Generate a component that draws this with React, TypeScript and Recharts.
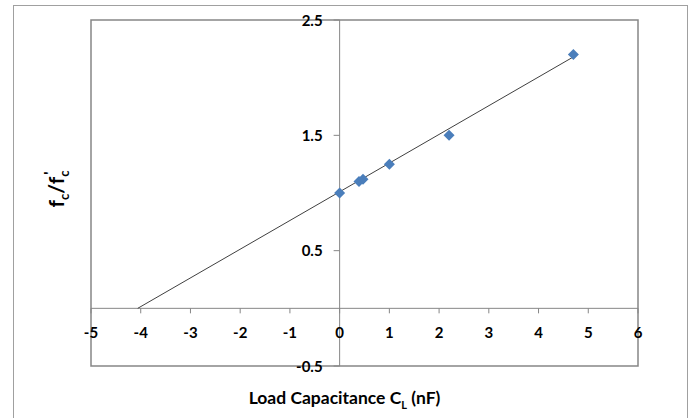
import {
  ReferenceArea,
  ReferenceDot,
  ReferenceLine,
  Scatter,
  ScatterChart,
  XAxis,
  YAxis,
} from "recharts";

// measured points: load capacitance (nF) vs fc/fc'
const capacitance = [0, 0.39, 0.47, 1.0, 2.2, 4.7];
const ratio = [1.0, 1.1, 1.12, 1.25, 1.5, 2.2];

// linear trendline, backcast to the x axis
const trendX = [-4.06, 4.7];
const trendY = [0, 2.18];

const xTicks = [-5, -4, -3, -2, -1, 0, 1, 2, 3, 4, 5, 6];
const yTicks = [-0.5, 0.5, 1.5, 2.5];

const points = capacitance.map((x, i) => ({ x, y: ratio[i] }));

const FONT = "Lato, 'Open Sans', sans-serif";
const AXIS_GRAY = "#868686";

function Diamond(props: any) {
  const { cx, cy } = props;
  const r = 5.5;
  return (
    <polygon
      points={`${cx},${cy - r} ${cx + r},${cy} ${cx},${cy + r} ${cx - r},${cy}`}
      fill="#4a7ebb"
    />
  );
}

function XTick(label: number) {
  return (props: any) => {
    const { cx, cy } = props;
    return (
      <g>
        <line x1={cx} y1={cy} x2={cx} y2={cy + 5} stroke={AXIS_GRAY} />
        <text
          x={cx}
          y={cy + 30}
          textAnchor="middle"
          fontFamily={FONT}
          fontWeight="bold"
          fontSize={15}
          fill="#000"
        >
          {label}
        </text>
      </g>
    );
  };
}

function YTick(label: number) {
  return (props: any) => {
    const { cx, cy } = props;
    return (
      <g>
        <line x1={cx - 6} y1={cy} x2={cx} y2={cy} stroke={AXIS_GRAY} />
        <text
          x={cx - 17}
          y={cy + 5.5}
          textAnchor="end"
          fontFamily={FONT}
          fontWeight="bold"
          fontSize={15}
          fill="#000"
        >
          {label}
        </text>
      </g>
    );
  };
}

export default function App() {
  return (
    <div
      style={{
        position: "absolute",
        left: 0,
        top: 0,
        width: 697,
        height: 418,
        overflow: "hidden",
        background: "#fff",
      }}
    >
      <div
        style={{
          position: "absolute",
          left: 13,
          top: 5,
          width: 673,
          height: 440,
          border: "1px solid #a0a0a0",
        }}
      />
      <div style={{ position: "absolute", left: 0, top: 0 }}>
        <ScatterChart
          width={697}
          height={418}
          margin={{ top: 20, right: 59, bottom: 52, left: 91 }}
        >
          <XAxis
            type="number"
            dataKey="x"
            domain={[-5, 6]}
            ticks={xTicks}
            hide
          />
          <YAxis
            type="number"
            dataKey="y"
            domain={[-0.5, 2.5]}
            ticks={yTicks}
            hide
          />
          <ReferenceArea
            x1={-5}
            x2={6}
            y1={-0.5}
            y2={2.5}
            fill="none"
            fillOpacity={0}
            stroke={AXIS_GRAY}
            strokeWidth={1.5}
          />
          <ReferenceLine x={0} stroke={AXIS_GRAY} />
          <ReferenceLine y={0} stroke={AXIS_GRAY} />
          {xTicks.map((t) => (
            <ReferenceDot
              key={`x${t}`}
              x={t}
              y={0}
              r={0}
              shape={XTick(t)}
            />
          ))}
          {yTicks.map((t) => (
            <ReferenceDot
              key={`y${t}`}
              x={0}
              y={t}
              r={0}
              shape={YTick(t)}
            />
          ))}
          <ReferenceLine
            segment={[
              { x: trendX[0], y: trendY[0] },
              { x: trendX[1], y: trendY[1] },
            ]}
            stroke="#404040"
            strokeWidth={1}
          />
          <Scatter
            data={points}
            shape={<Diamond />}
            isAnimationActive={false}
          />
        </ScatterChart>
      </div>
      <div
        style={{
          position: "absolute",
          left: 0,
          width: 689,
          top: 387,
          textAlign: "center",
          fontFamily: FONT,
          fontWeight: "bold",
          fontSize: 17.5,
          color: "#000",
        }}
      >
        Load Capacitance C
        <sub style={{ fontSize: 11 }}>L</sub> (nF)
      </div>
      <div
        style={{
          position: "absolute",
          left: 60,
          top: 189,
          transform: "translate(-50%, -50%) rotate(-90deg)",
          whiteSpace: "nowrap",
          fontFamily: FONT,
          fontWeight: "bold",
          fontSize: 21,
          lineHeight: "30px",
          color: "#000",
        }}
      >
        f<sub style={{ fontSize: 13 }}>c</sub>/f
        <span style={{ position: "relative", display: "inline-block" }}>
          <sub style={{ fontSize: 13 }}>c</sub>
          <span
            style={{
              position: "absolute",
              left: 2,
              top: -7,
              fontSize: 15,
            }}
          >
            '
          </span>
        </span>
      </div>
    </div>
  );
}
